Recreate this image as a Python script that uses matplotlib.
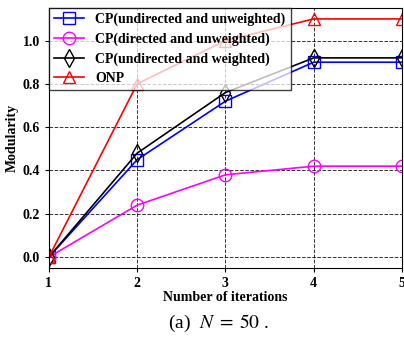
import matplotlib
matplotlib.use("Agg")
import matplotlib.pyplot as plt

iterations = [1, 2, 3, 4, 5]
cp_uu = [0.0, 0.45, 0.72, 0.90, 0.90]
cp_du = [0.0, 0.24, 0.38, 0.42, 0.42]
cp_uw = [0.0, 0.48, 0.76, 0.92, 0.92]
onp = [0.0, 0.80, 1.00, 1.10, 1.10]

plt.rcParams["font.family"] = ["Liberation Serif", "DejaVu Serif"]
plt.rcParams["mathtext.fontset"] = "stix"

fig = plt.figure(figsize=(4.04, 3.37), dpi=100)
ax = fig.add_axes([0.121, 0.205, 0.874, 0.771])

ax.plot(iterations, cp_uu, color="#0000ff", marker="s", mfc="none", ms=8, lw=1.2,
        label="CP(undirected and unweighted)")
ax.plot(iterations, cp_du, color="#ff00ff", marker="o", mfc="none", ms=9, lw=1.2,
        label="CP(directed and unweighted)")
ax.plot(iterations, cp_uw, color="black", marker="d", mfc="none", ms=9, lw=1.2,
        label="CP(undirected and weighted)")
ax.plot(iterations, onp, color="#ff0000", marker="^", mfc="none", ms=9, lw=1.2,
        label="ONP")

ax.set_xlim(1, 5)
ax.set_ylim(-0.05, 1.15)
ax.set_xticks(iterations)
ax.set_yticks([0.0, 0.2, 0.4, 0.6, 0.8, 1.0])
ax.set_yticklabels(["0.0", "0.2", "0.4", "0.6", "0.8", "1.0"])
ax.grid(True, color="black", linestyle="--", linewidth=0.7, alpha=0.8)
ax.tick_params(labelsize=10, length=3)
for lab in ax.get_xticklabels() + ax.get_yticklabels():
    lab.set_fontweight("bold")

ax.set_xlabel("Number of iterations", fontsize=10, fontweight="bold", labelpad=1)
ax.set_ylabel("Modularity", fontsize=10, fontweight="bold", labelpad=3)

leg = ax.legend(loc="upper left", prop={"weight": "bold", "size": 10},
                fancybox=False, framealpha=0.75, edgecolor="black",
                borderaxespad=0.0, handlelength=2.2, labelspacing=0.45,
                borderpad=0.35, handletextpad=0.8)
leg.get_frame().set_linewidth(1.0)

# caption below the axes
fig.text(0.54, 0.04, r"(a)  $N\;=\;50$ .", ha="center", va="center", fontsize=14)

fig.savefig("out.png", dpi=100)
